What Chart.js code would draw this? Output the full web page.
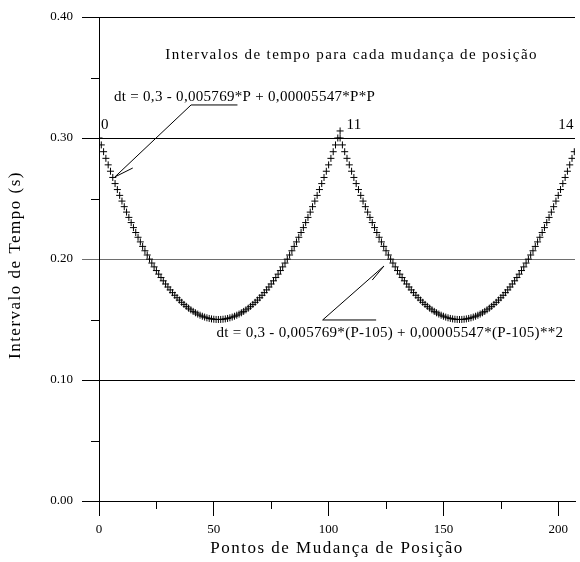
<!DOCTYPE html>
<html>
<head>
<meta charset="utf-8">
<script src="https://cdn.jsdelivr.net/npm/chart.js@4.4.1/dist/chart.umd.min.js"></script>
<style>
  html, body { margin: 0; padding: 0; background: #fff; }
  canvas { display: block; }
</style>
</head>
<body>
<canvas id="c" width="580" height="562"></canvas>
<script>
// Change points P along the trajectory
const positions = Array.from({ length: 208 }, (_, i) => i);   // 0 .. 207
// Each segment restarts the parabola at its first point
const segmentStarts = [0, 105];
const segmentEnds = [105, 207];
// dt = c0 + c1*u + c2*u*u, with u = P - start
const coeffs = [0.3, -0.005769, 0.00005547];

const xTickValues = [0, 50, 100, 150, 200];
const xTickLabels = ['0', '50', '100', '150', '200'];
const yTickValues = [0, 0.1, 0.2, 0.3, 0.4];
const yTickLabels = ['0.00', '0.10', '0.20', '0.30', '0.40'];
const xMinorTicks = [25, 75, 125, 175];
const yMinorTicks = [0.05, 0.15, 0.25, 0.35];

const peakLabels = ['0', '11', '14'];

function segmentPoints(k) {
  const start = segmentStarts[k];
  return positions
    .filter(p => p >= start && p <= segmentEnds[k])
    .map(p => {
      const u = p - start;
      return { x: p, y: coeffs[0] + coeffs[1] * u + coeffs[2] * u * u };
    });
}

const SERIF = '"Liberation Serif", "Times New Roman", serif';

const decorations = {
  id: 'decorations',
  afterDatasetsDraw(chart) {
    const { ctx, chartArea } = chart;
    const xs = chart.scales.x, ys = chart.scales.y;
    const X = v => xs.getPixelForValue(v);
    const Y = v => ys.getPixelForValue(v);

    ctx.save();
    ctx.strokeStyle = '#000';
    ctx.lineWidth = 1;

    // minor ticks
    ctx.beginPath();
    xMinorTicks.forEach(v => {
      const px = Math.round(X(v)) + 0.5;
      ctx.moveTo(px, chartArea.bottom);
      ctx.lineTo(px, chartArea.bottom + 8);
    });
    yMinorTicks.forEach(v => {
      const py = Math.round(Y(v)) + 0.5;
      ctx.moveTo(chartArea.left - 8, py);
      ctx.lineTo(chartArea.left, py);
    });
    ctx.stroke();

    // leader lines for the two formulas
    const leaders = [
      { a: [60.3, 0.3273], b: [40.1, 0.3273], tip: [6.9, 0.2678], barb: [14.7, 0.2752] },
      { a: [120.7, 0.1496], b: [97.4, 0.1496], tip: [124.1, 0.1942], barb: [119.0, 0.1826] }
    ];
    ctx.beginPath();
    leaders.forEach(l => {
      ctx.moveTo(X(l.a[0]), Y(l.a[1]));
      ctx.lineTo(X(l.b[0]), Y(l.b[1]));
      ctx.lineTo(X(l.tip[0]), Y(l.tip[1]));
      ctx.lineTo(X(l.barb[0]), Y(l.barb[1]));
    });
    ctx.stroke();

    ctx.fillStyle = '#000';
    ctx.textBaseline = 'middle';
    const text = (s, x, y, size, align, spacing) => {
      ctx.font = size + 'px ' + SERIF;
      ctx.textAlign = align;
      if ('letterSpacing' in ctx) ctx.letterSpacing = spacing + 'px';
      ctx.fillText(s, x, y);
    };

    text('Intervalos de tempo para cada mudança de posição', X(28.9), Y(0.3686), 15, 'left', 1.4);
    text('dt = 0,3 - 0,005769*P + 0,00005547*P*P', X(6.5), Y(0.3339), 15, 'left', 0.3);
    text('dt = 0,3 - 0,005769*(P-105) + 0,00005547*(P-105)**2', X(202.2), Y(0.1388), 15, 'right', 0.3);

    text(peakLabels[0], X(0.9), Y(0.3107), 15, 'left', 0.3);
    text(peakLabels[1], X(107.8), Y(0.3107), 15, 'left', 0.3);
    text(peakLabels[2], X(200), Y(0.3107), 15, 'left', 0.3);

    // axis titles
    text('Pontos de Mudança de Posição', (chartArea.left + chartArea.right) / 2, 549, 17, 'center', 1.5);
    ctx.save();
    ctx.translate(16, 265);
    ctx.rotate(-Math.PI / 2);
    text('Intervalo de Tempo (s)', 0, 0, 17, 'center', 1.5);
    ctx.restore();

    ctx.restore();
  }
};

const markerStyle = {
  showLine: false,
  pointStyle: 'cross',
  pointRadius: 3.5,
  borderColor: '#000',
  backgroundColor: '#000',
  borderWidth: 1
};

new Chart(document.getElementById('c'), {
  type: 'scatter',
  data: {
    datasets: [
      Object.assign({ data: segmentPoints(0) }, markerStyle),
      Object.assign({ data: segmentPoints(1) }, markerStyle)
    ]
  },
  options: {
    responsive: false,
    animation: false,
    events: [],
    layout: { padding: { top: 17, right: 0, left: 0, bottom: 0 } },
    plugins: { legend: { display: false }, tooltip: { enabled: false } },
    scales: {
      x: {
        type: 'linear',
        min: 0,
        max: 207.3,
        afterBuildTicks: s => { s.ticks = xTickValues.map(v => ({ value: v })); },
        afterFit: s => { s.height = 61; },
        grid: { drawOnChartArea: false, drawTicks: true, tickLength: 15, color: '#000', lineWidth: 1 },
        border: { display: true, color: '#000', width: 1 },
        ticks: {
          callback: (v, i) => xTickLabels[i],
          font: { family: SERIF, size: 13 },
          color: '#000',
          padding: 6,
          maxRotation: 0,
          autoSkip: false
        }
      },
      y: {
        type: 'linear',
        min: 0,
        max: 0.4,
        afterBuildTicks: s => { s.ticks = yTickValues.map(v => ({ value: v })); },
        afterFit: s => { s.width = 99; },
        grid: {
          drawOnChartArea: true,
          drawTicks: true,
          tickLength: 17,
          color: c => (c.tick && c.tick.value === 0.2 ? '#6e6e6e' : '#000'),
          lineWidth: 1
        },
        border: { display: true, color: '#000', width: 1 },
        ticks: {
          callback: (v, i) => yTickLabels[i],
          font: { family: SERIF, size: 13 },
          color: '#000',
          padding: 9,
          autoSkip: false
        }
      }
    }
  },
  plugins: [decorations]
});
</script>
</body>
</html>
